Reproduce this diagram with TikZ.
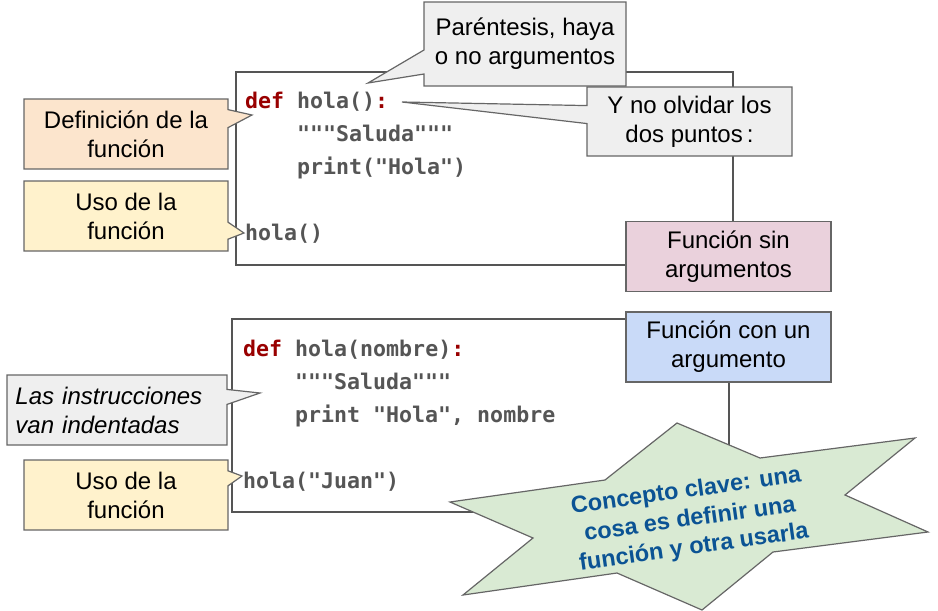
\documentclass[tikz,border=0pt]{standalone}
\usepackage{fontspec}
\setmainfont{Liberation Sans}
\newfontfamily\codefont{DejaVu Sans Mono}
\usetikzlibrary{shapes.callouts}
\definecolor{peach}{HTML}{FCE5CD}
\definecolor{paleyellow}{HTML}{FFF2CC}
\definecolor{palepink}{HTML}{EAD1DC}
\definecolor{paleblue}{HTML}{C9DAF8}
\definecolor{palegray}{HTML}{EFEFEF}
\definecolor{palegreen}{HTML}{D9EAD3}
\definecolor{starblue}{HTML}{0B5394}
\definecolor{edgegray}{HTML}{666666}
\definecolor{codegray}{HTML}{555555}
\definecolor{kwred}{HTML}{990000}
\newcommand{\kw}[1]{\textcolor{kwred}{#1}}

\begin{document}
\begin{tikzpicture}[x=1pt, y=-1pt,
  note/.style={rectangle callout, draw=edgegray, line width=1.2pt, inner sep=0pt,
    minimum width=204pt, minimum height=70pt, align=center,
    font=\fontsize{24}{29}\selectfont},
  tag/.style={rectangle, draw=edgegray, line width=1.2pt, inner sep=0pt,
    minimum width=205pt, minimum height=70pt, align=center,
    font=\fontsize{24}{29}\selectfont},
  codebox/.style={draw=codegray, line width=2pt},
  code/.style={anchor=base west, inner sep=0pt, text=codegray,
    font=\codefont\bfseries\fontsize{21.6}{26}\selectfont}]
  \useasboundingbox (0,0) rectangle (938,611);

  % primer bloque de codigo: funcion sin argumentos
  \draw[codebox] (236,72) rectangle (733,265);
  \node[code] (d1) at (245,108) {\kw{def} hola()\kw{:}};
  \node[code] (s1) at (297,141) {"""Saluda"""};
  \node[code] (p1) at (297,174) {print("Hola")};
  \node[code] (c1) at (245,240) {hola()};

  % segundo bloque de codigo: funcion con un argumento
  \draw[codebox] (232,319) rectangle (729,512);
  \node[code] (d2) at (243,356) {\kw{def} hola(nombre)\kw{:}};
  \node[code] (s2) at (295,389) {"""Saluda"""};
  \node[code] (p2) at (295,422) {print "Hola", nombre};
  \node[code] (c2) at (243,488) {hola("Juan")};

  % notas de arriba
  \node[note, fill=palegray, minimum width=202pt, minimum height=84pt,
    callout pointer width=24pt, callout absolute pointer={(368,83)}]
    (paren) at (525,44) {Paréntesis, haya\\o no argumentos};
  \node[note, fill=palegray, minimum width=205pt, minimum height=69pt,
    callout pointer width=18pt, callout absolute pointer={(402,102)}]
    (colon) at (689.5,121.5) {Y no olvidar los\\dos puntos\,:};

  % notas de la izquierda
  \node[note, fill=peach, callout pointer width=18pt,
    callout absolute pointer={(252,115)}]
    (defn) at (126,134) {Definición de la\\función};
  \node[note, fill=paleyellow, callout pointer width=17pt,
    callout absolute pointer={(244,233)}]
    (uso1) at (126,216) {Uso de la\\función};
  \node[note, fill=palegray, text width=203pt, inner xsep=8.5pt, align=left,
    font=\fontsize{24}{29}\selectfont\itshape, callout pointer width=15pt,
    callout absolute pointer={(260,393)}]
    (indent) at (117,410) {Las instrucciones\\van indentadas};
  \node[note, fill=paleyellow, callout pointer width=15pt,
    callout absolute pointer={(242,476)}]
    (uso2) at (126,495) {Uso de la\\función};

  % etiquetas de la derecha
  \node[tag, fill=palepink] (sinarg) at (728.5,256.5) {Función sin\\argumentos};
  \node[tag, fill=paleblue] (conarg) at (728.5,347) {Función con un\\argumento};

  % estrella con el concepto clave
  \filldraw[fill=palegreen, draw=edgegray, line width=1.2pt]
    (677,423) -- (760,458) -- (915,438) -- (845,495) -- (928,532) -- (773,552)
    -- (702,610) -- (617,573) -- (463,595) -- (533,538) -- (450,502) -- (605,480)
    -- cycle;
  \node[rotate=8, align=center, text=starblue, inner sep=0pt,
    font=\fontsize{23.5}{28.5}\selectfont\bfseries] (clave) at (690,520)
    {Concepto clave: una\\cosa es definir una\\función y otra usarla};
\end{tikzpicture}
\end{document}
